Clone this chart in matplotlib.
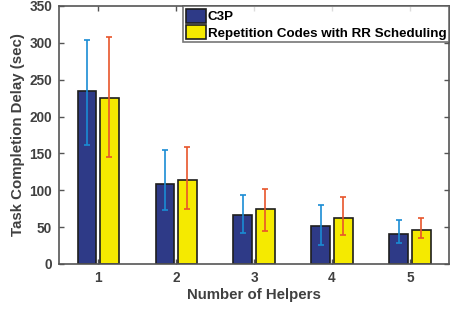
import numpy as np
import matplotlib
matplotlib.use('Agg')
import matplotlib.pyplot as plt

plt.rcParams['font.family'] = ['Liberation Sans', 'DejaVu Sans']
plt.rcParams['font.weight'] = 'bold'

# data
helpers = [1, 2, 3, 4, 5]
c3p = [234, 109, 66, 52, 40]
c3p_low = [162, 73, 42, 26, 28]
c3p_high = [304, 155, 93, 80, 60]
rep = [225, 114, 75, 62, 46]
rep_low = [145, 75, 45, 39, 35]
rep_high = [308, 159, 101, 91, 63]

txt = '#404040'
x = np.array(helpers, dtype=float)
w = 0.24
off = 0.143

fig = plt.figure(figsize=(4.54, 3.12), dpi=100)
ax = fig.add_axes([0.130, 0.154, 0.859, 0.827])

ax.bar(x - off, c3p, w, color='#2e3a87', edgecolor='#1e1e1e', linewidth=1.2,
       label='C3P', zorder=2)
ax.bar(x + off, rep, w, color='#f5ea00', edgecolor='#1e1e1e', linewidth=1.2,
       label='Repetition Codes with RR Scheduling', zorder=2)

ax.errorbar(x - off, c3p,
            yerr=[np.array(c3p) - np.array(c3p_low), np.array(c3p_high) - np.array(c3p)],
            fmt='none', ecolor='#1a8cd4', elinewidth=1.2, capsize=2.3, capthick=1.2, zorder=3)
ax.errorbar(x + off, rep,
            yerr=[np.array(rep) - np.array(rep_low), np.array(rep_high) - np.array(rep)],
            fmt='none', ecolor='#e8552b', elinewidth=1.2, capsize=2.3, capthick=1.2, zorder=3)

ax.set_xlim(0.5, 5.5)
ax.set_ylim(0, 350)
ax.set_xticks(helpers)
ax.set_yticks(range(0, 351, 50))
ax.tick_params(direction='in', top=True, right=True, length=3.5, width=1,
               colors='#555555', labelcolor=txt, labelsize=9.8, pad=5)
for s in ax.spines.values():
    s.set_color('#555555')
    s.set_linewidth(1.2)

ax.set_xlabel('Number of Helpers', fontsize=10.8, color=txt, fontweight='bold', labelpad=2)
ax.set_ylabel('Task Completion Delay (sec)', fontsize=10.8, color=txt, fontweight='bold', labelpad=3)

leg = ax.legend(loc='upper right', bbox_to_anchor=(1.0, 1.0), borderaxespad=0,
                fontsize=9.6, frameon=True, fancybox=False, edgecolor='#555555',
                handlelength=1.5, handleheight=1.25, handletextpad=0.12,
                borderpad=0.2, labelspacing=0.15)
leg.get_frame().set_linewidth(1.2)
for t in leg.get_texts():
    t.set_color('black')

fig.savefig('out.png', dpi=100)
